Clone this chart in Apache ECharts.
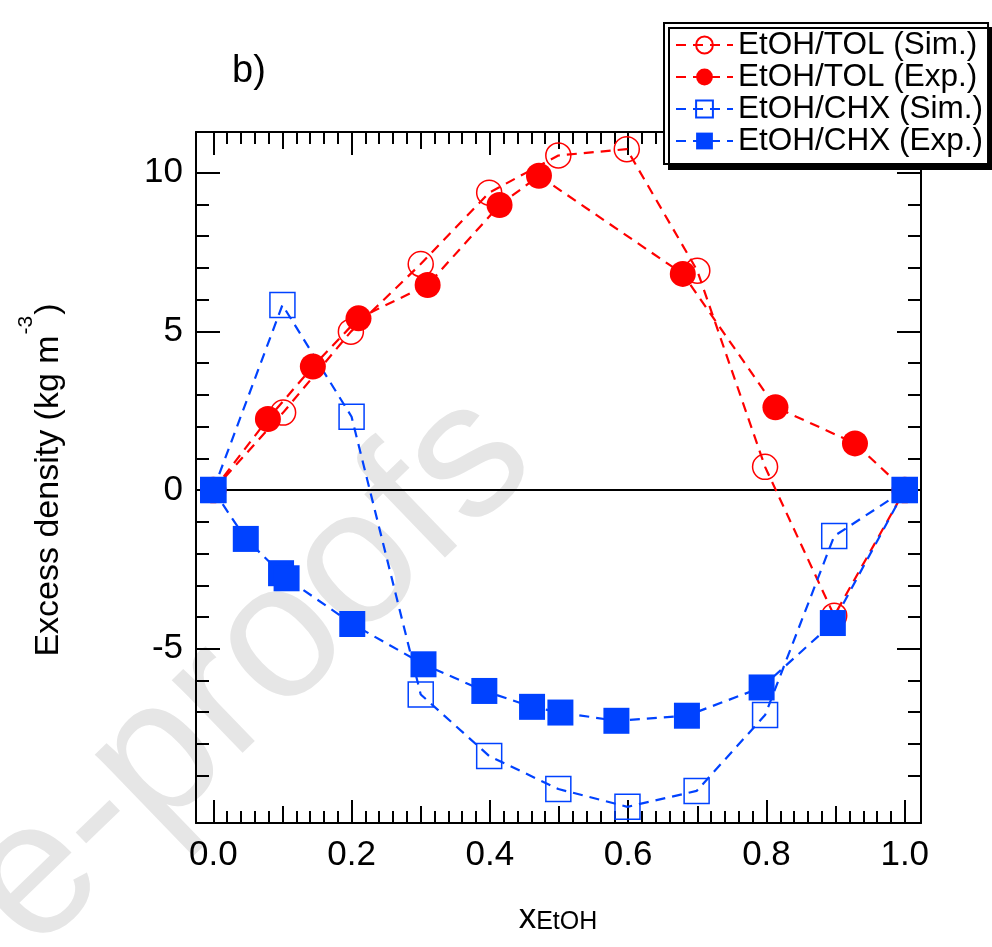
<!DOCTYPE html>
<html>
<head>
<meta charset="utf-8">
<script src="https://cdn.jsdelivr.net/npm/echarts@6/dist/echarts.min.js"></script>
<style>
html,body{margin:0;padding:0;background:#fff;}
#chart{width:992px;height:947px;}
</style>
</head>
<body>
<div id="chart"></div>
<script>
// ---------------- data ----------------
const seriesNames = ['EtOH/TOL (Sim.)', 'EtOH/TOL (Exp.)', 'EtOH/CHX (Sim.)', 'EtOH/CHX (Exp.)'];

const tolSimX = [0, 0.101, 0.199, 0.300, 0.399, 0.499, 0.598, 0.700, 0.798, 0.898, 1.0];
const tolSimY = [0, 2.44, 4.99, 7.12, 9.37, 10.54, 10.74, 6.91, 0.73, -3.96, 0];

const tolExpX = [0, 0.079, 0.144, 0.210, 0.310, 0.414, 0.471, 0.679, 0.813, 0.928, 1.0];
const tolExpY = [0, 2.24, 3.89, 5.41, 6.46, 8.98, 9.90, 6.81, 2.61, 1.47, 0];

const chxSimX = [0, 0.100, 0.200, 0.300, 0.399, 0.499, 0.599, 0.699, 0.798, 0.898, 1.0];
const chxSimY = [0, 5.83, 2.31, -6.44, -8.38, -9.42, -9.98, -9.48, -7.09, -1.45, 0];

const chxExpX = [0, 0.047, 0.098, 0.106, 0.201, 0.304, 0.392, 0.461, 0.502, 0.583, 0.685, 0.793, 0.896, 1.0];
const chxExpY = [0, -1.54, -2.62, -2.78, -4.22, -5.49, -6.33, -6.83, -7.01, -7.27, -7.11, -6.22, -4.19, 0];

const zeroLineX = [0, 1];
const zeroLineY = [0, 0];

// tick values / labels
const xMajorTicks = [0, 0.2, 0.4, 0.6, 0.8, 1.0];
const xMidTicks = [0.1, 0.3, 0.5, 0.7, 0.9];
const xMinorTicks = [0, 0.02, 0.04, 0.06, 0.08, 0.1, 0.12, 0.14, 0.16, 0.18, 0.2,
  0.22, 0.24, 0.26, 0.28, 0.3, 0.32, 0.34, 0.36, 0.38, 0.4,
  0.42, 0.44, 0.46, 0.48, 0.5, 0.52, 0.54, 0.56, 0.58, 0.6,
  0.62, 0.64, 0.66, 0.68, 0.7, 0.72, 0.74, 0.76, 0.78, 0.8,
  0.82, 0.84, 0.86, 0.88, 0.9, 0.92, 0.94, 0.96, 0.98, 1.0];
const xTickLabels = ['0.0', '0.2', '0.4', '0.6', '0.8', '1.0'];
const yMajorTicks = [-5, 0, 5, 10];
const yMinorTicks = [-9, -8, -7, -6, -5, -4, -3, -2, -1, 0, 1, 2, 3, 4, 5, 6, 7, 8, 9];
const yTickLabels = ['-5', '0', '5', '10'];

const xRange = [-0.025, 1.0235];
const yRange = [-10.49, 11.28];

// ---------------- chart ----------------
const FONT = "'Liberation Sans', Arial, Helvetica, sans-serif";
const RED = '#ff0000';
const BLUE = '#0042ff';
const pairs = (xs, ys) => xs.map((x, i) => [x, ys[i]]);

function xAxisDef(pos, ticks, len, showLine, labels) {
  return {
    type: 'value', gridIndex: 0, position: pos, min: xRange[0], max: xRange[1],
    axisLine: {show: showLine, onZero: false, lineStyle: {color: '#000', width: 2}},
    axisTick: {show: true, inside: true, length: len, customValues: ticks, lineStyle: {color: '#000', width: 2}},
    axisLabel: labels ? {
      show: true, customValues: xMajorTicks, margin: 15, color: '#000', fontSize: 35, fontFamily: FONT,
      formatter: v => { const i = xMajorTicks.findIndex(t => Math.abs(t - v) < 1e-6); return i >= 0 ? xTickLabels[i] : ''; }
    } : {show: false},
    splitLine: {show: false}
  };
}
function yAxisDef(pos, ticks, len, showLine, labels) {
  return {
    type: 'value', gridIndex: 0, position: pos, min: yRange[0], max: yRange[1],
    axisLine: {show: showLine, onZero: false, lineStyle: {color: '#000', width: 2}},
    axisTick: {show: true, inside: true, length: len, customValues: ticks, lineStyle: {color: '#000', width: 2}},
    axisLabel: labels ? {
      show: true, customValues: yMajorTicks, margin: 13, color: '#000', fontSize: 35, fontFamily: FONT,
      formatter: v => { const i = yMajorTicks.findIndex(t => Math.abs(t - v) < 1e-6); return i >= 0 ? yTickLabels[i] : ''; }
    } : {show: false},
    splitLine: {show: false}
  };
}

const dash = [10, 7];
const LW = 2.2;
const chart = echarts.init(document.getElementById('chart'), null, {renderer: 'canvas'});
chart.setOption({
  backgroundColor: '#fff',
  animation: false,
  grid: {left: 196, top: 132, width: 725, height: 691, containLabel: false},
  xAxis: [
    xAxisDef('bottom', xMajorTicks, 23, true, true),
    xAxisDef('bottom', xMidTicks, 17, false, false),
    xAxisDef('bottom', xMinorTicks, 12, false, false),
    xAxisDef('top', xMajorTicks, 23, true, false),
    xAxisDef('top', xMidTicks, 17, false, false),
    xAxisDef('top', xMinorTicks, 12, false, false)
  ],
  yAxis: [
    yAxisDef('left', yMajorTicks, 24, true, true),
    yAxisDef('left', yMinorTicks, 13, false, false),
    yAxisDef('right', yMajorTicks, 24, true, false),
    yAxisDef('right', yMinorTicks, 13, false, false)
  ],
  legend: {
    orient: 'vertical', left: 664, top: 23, z: 20,
    data: seriesNames,
    padding: [6, 5, 7, 11], itemGap: 0, itemWidth: 57, itemHeight: 21,
    backgroundColor: '#fff', borderColor: '#000', borderWidth: 2,
    shadowColor: '#000', shadowBlur: 0, shadowOffsetX: 5, shadowOffsetY: 5,
    textStyle: {fontSize: 31.5, fontFamily: FONT, color: '#000'},
    selectedMode: false
  },
  graphic: [
    {type: 'text', z: -10, x: 250, y: 672, rotation: 44 * Math.PI / 180,
      style: {text: 'e-proofs', font: "192px 'Liberation Sans', Arial, sans-serif", fill: '#e6e6e6', textAlign: 'center', textVerticalAlign: 'middle'}},
    {type: 'text', x: 232, y: 72, z: 5,
      style: {text: 'b)', font: "38px 'Liberation Sans', Arial, sans-serif", fill: '#000', textAlign: 'left', textVerticalAlign: 'middle'}},
    {type: 'text', x: 41, y: 480, rotation: Math.PI / 2, z: 5,
      style: {text: '{m|Excess density (kg m}{s|-3}{m|)}', textAlign: 'center', textVerticalAlign: 'middle', fill: '#000',
        rich: {
          m: {fontSize: 34, fontFamily: FONT, fill: '#000', lineHeight: 50, verticalAlign: 'bottom'},
          s: {fontSize: 21, fontFamily: FONT, fill: '#000', lineHeight: 22, verticalAlign: 'top', padding: [0, 1, 0, 1]}
        }}},
    {type: 'text', x: 558, y: 901, z: 5,
      style: {text: '{x|x}{s|EtOH}', textAlign: 'center', textVerticalAlign: 'top', fill: '#000',
        rich: {
          x: {fontSize: 35, fontFamily: FONT, fill: '#000', lineHeight: 34, verticalAlign: 'top'},
          s: {fontSize: 25, fontFamily: FONT, fill: '#000', lineHeight: 25, padding: [20, 0, 0, 0], verticalAlign: 'bottom'}
        }}}
  ],
  series: [
    {type: 'line', name: 'zero', data: pairs(zeroLineX, zeroLineY), symbol: 'none', silent: true,
      lineStyle: {color: '#000', width: 2}},
    {type: 'line', name: seriesNames[0], data: pairs(tolSimX, tolSimY), symbol: 'circle', symbolSize: 25,
      lineStyle: {color: RED, width: LW, type: dash},
      itemStyle: {color: 'rgba(255,255,255,0)', borderColor: RED, borderWidth: 1.5}},
    {type: 'line', name: seriesNames[1], data: pairs(tolExpX, tolExpY), symbol: 'circle', symbolSize: 26,
      lineStyle: {color: RED, width: LW, type: dash},
      itemStyle: {color: RED}},
    {type: 'line', name: seriesNames[2], data: pairs(chxSimX, chxSimY), symbol: 'rect', symbolSize: 25,
      lineStyle: {color: BLUE, width: LW, type: dash},
      itemStyle: {color: 'rgba(255,255,255,0)', borderColor: BLUE, borderWidth: 1.5}},
    {type: 'line', name: seriesNames[3], data: pairs(chxExpX, chxExpY), symbol: 'rect', symbolSize: 26,
      lineStyle: {color: BLUE, width: LW, type: dash},
      itemStyle: {color: BLUE}}
  ]
});
</script>
</body>
</html>
